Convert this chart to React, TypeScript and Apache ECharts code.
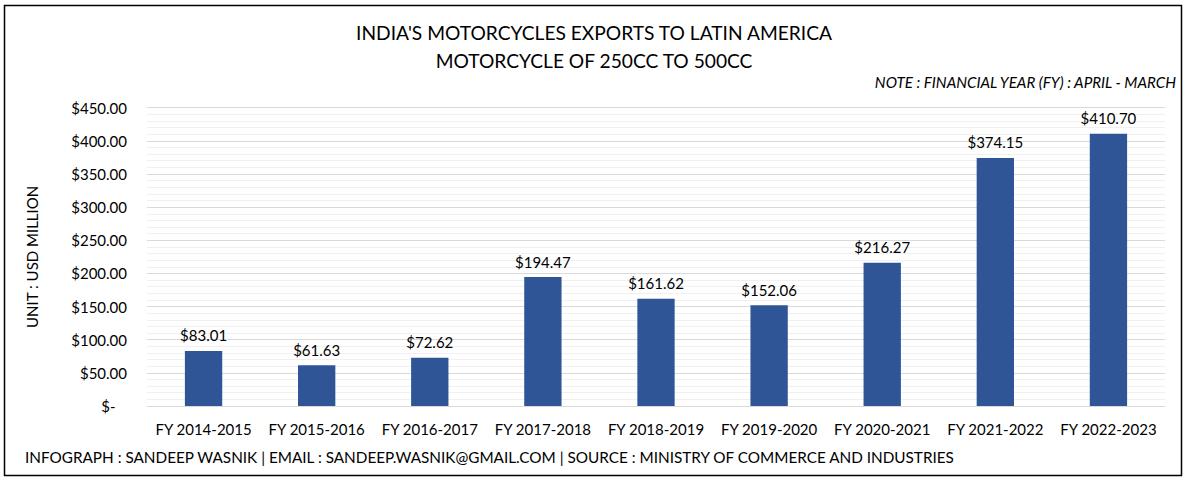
import React, { useEffect, useRef } from "react";
import * as echarts from "echarts";

const categories = [
  "FY 2014-2015",
  "FY 2015-2016",
  "FY 2016-2017",
  "FY 2017-2018",
  "FY 2018-2019",
  "FY 2019-2020",
  "FY 2020-2021",
  "FY 2021-2022",
  "FY 2022-2023",
];
const exportValues = [83.01, 61.63, 72.62, 194.47, 161.62, 152.06, 216.27, 374.15, 410.7];
const titleLines = ["INDIA'S MOTORCYCLES EXPORTS TO LATIN AMERICA", "MOTORCYCLE OF 250CC TO 500CC"];
const noteText = "NOTE : FINANCIAL YEAR (FY) : APRIL - MARCH";
const footerText =
  "INFOGRAPH : SANDEEP WASNIK | EMAIL : SANDEEP.WASNIK@GMAIL.COM | SOURCE : MINISTRY OF COMMERCE AND INDUSTRIES";
const yAxisName = "UNIT : USD MILLION";

const FONT = "Lato, 'Open Sans', sans-serif";

export default function App() {
  const ref = useRef<HTMLDivElement>(null);
  useEffect(() => {
    if (!ref.current) return;
    const chart = echarts.init(ref.current, undefined, { renderer: "svg" });
    chart.setOption({
      animation: false,
      backgroundColor: "#ffffff",
      textStyle: { fontFamily: FONT },
      graphic: [
        {
          type: "rect",
          shape: { x: 4.5, y: 5.5, width: 1177, height: 470 },
          style: { fill: "none", stroke: "#000", lineWidth: 1.5 },
          z: 0,
        },
        {
          type: "text",
          x: 594,
          y: 32,
          style: {
            text: titleLines[0],
            fontFamily: FONT,
            fontSize: 19.2,
            fill: "#000",
            align: "center",
            verticalAlign: "middle",
          },
        },
        {
          type: "text",
          x: 594,
          y: 60,
          style: {
            text: titleLines[1],
            fontFamily: FONT,
            fontSize: 19.2,
            fill: "#000",
            align: "center",
            verticalAlign: "middle",
          },
        },
        {
          type: "text",
          x: 1176,
          y: 82,
          style: {
            text: noteText,
            fontFamily: FONT,
            fontSize: 15.2,
            fontStyle: "italic",
            fill: "#000",
            align: "right",
            verticalAlign: "middle",
          },
        },
        {
          type: "text",
          x: 25,
          y: 457,
          style: {
            text: footerText,
            fontFamily: FONT,
            fontSize: 15.3,
            fill: "#000",
            align: "left",
            verticalAlign: "middle",
          },
        },
      ],
      grid: { left: 147, right: 22, top: 107.7, bottom: 75, containLabel: false },
      xAxis: {
        type: "category",
        data: categories,
        axisLine: { lineStyle: { color: "#d9d9d9", width: 1 } },
        axisTick: { show: false },
        axisLabel: { color: "#000", fontSize: 15, fontFamily: FONT, margin: 15, interval: 0 },
      },
      yAxis: {
        type: "value",
        min: 0,
        max: 450,
        interval: 50,
        name: yAxisName,
        nameLocation: "middle",
        nameGap: 108,
        nameTextStyle: { color: "#000", fontSize: 15, fontFamily: FONT },
        axisLine: { show: false },
        axisTick: { show: false },
        axisLabel: {
          color: "#000",
          fontSize: 15,
          fontFamily: FONT,
          margin: 20,
          formatter: (v: number) => (v === 0 ? "$-   " : "$" + v.toFixed(2)),
        },
        splitLine: { lineStyle: { color: "#d9d9d9", width: 1 } },
        minorTick: { show: false, splitNumber: 5 },
        minorSplitLine: { show: true, lineStyle: { color: "#f0f0f0", width: 1 } },
      },
      series: [
        {
          type: "bar",
          data: exportValues,
          barWidth: "33%",
          itemStyle: { color: "#2F5597" },
          label: {
            show: true,
            position: "top",
            distance: 8,
            color: "#000",
            fontSize: 15,
            fontFamily: FONT,
            formatter: (p: any) => "$" + Number(p.value).toFixed(2),
          },
        },
      ],
    });
    return () => chart.dispose();
  }, []);
  return (
    <div
      ref={ref}
      style={{ position: "fixed", left: 0, top: 0, width: 1187, height: 481 }}
    />
  );
}
